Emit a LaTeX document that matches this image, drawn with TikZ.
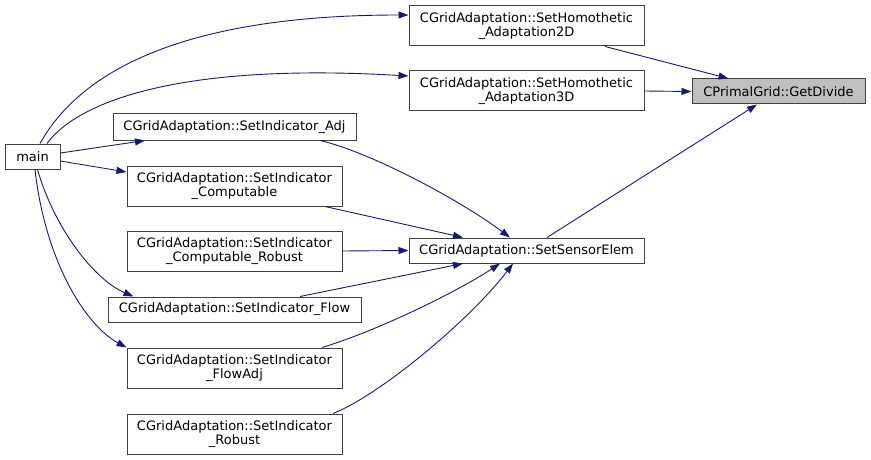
\documentclass[tikz,border=0pt]{standalone}
\usepackage{fontspec}
\setmainfont{DejaVu Sans}
\usetikzlibrary{positioning,arrows.meta}
\definecolor{edgeblue}{HTML}{191970}
\definecolor{boxgray}{HTML}{404040}
\definecolor{focusfill}{HTML}{BFBFBF}

\begin{document}
\begin{tikzpicture}[
  x=1pt, y=-1pt,
  fn/.style={
    rectangle, draw=boxgray, line width=1pt, fill=white,
    font=\fontsize{13}{14.7}\selectfont, inner sep=0pt, align=center
  },
  wide/.style={fn, minimum width=235pt, minimum height=40pt},
  ind/.style={fn, minimum width=215pt, minimum height=40pt},
  focus/.style={fn, fill=focusfill},
  arr/.style={-{Triangle[length=10pt,width=7pt]}, edgeblue, line width=0.9pt}
]
\useasboundingbox (0,0) rectangle (871,460);

% Called function
\node[focus, minimum width=173pt, minimum height=25pt] (div) at (778.5,91.5)
  {CPrimalGrid::GetDivide};

% Direct callers
\node[wide] (h2d) at (526.5,26) {CGridAdaptation::SetHomothetic\\\_Adaptation2D};
\node[wide] (h3d) at (526.5,91) {CGridAdaptation::SetHomothetic\\\_Adaptation3D};
\node[fn, minimum width=235pt, minimum height=25pt] (sens) at (526.5,250.5)
  {CGridAdaptation::SetSensorElem};

% Indicator functions
\node[fn, minimum width=243pt, minimum height=26pt] (adj) at (234.5,127)
  {CGridAdaptation::SetIndicator\_Adj};
\node[ind] (comp) at (234.5,186) {CGridAdaptation::SetIndicator\\\_Computable};
\node[ind] (compr) at (234.5,251) {CGridAdaptation::SetIndicator\\\_Computable\_Robust};
\node[fn, minimum width=253pt, minimum height=25pt] (flow) at (234.5,309.5)
  {CGridAdaptation::SetIndicator\_Flow};
\node[ind] (flowadj) at (234.5,368) {CGridAdaptation::SetIndicator\\\_FlowAdj};
\node[ind] (rob) at (234.5,434) {CGridAdaptation::SetIndicator\\\_Robust};

% Entry point
\node[fn, minimum width=55pt, minimum height=25pt] (main) at (32.5,156.5) {main};

% Calls into GetDivide
\draw[arr] ([xshift=78.5pt]h2d.south) -- ([xshift=-50pt]div.north);
\draw[arr] (h3d.east) -- (div.west);
\draw[arr] ([xshift=20.5pt]sens.north) -- ([xshift=-21.5pt]div.south);

% Calls from main
\draw[arr] ([xshift=7.5pt]main.north) .. controls (70,90) and (150,15) .. ([yshift=11pt]h2d.west);
\draw[arr] ([xshift=14.5pt]main.north) .. controls (75,105) and (170,62) .. ([yshift=15pt]h3d.west);
\draw[arr] ([yshift=3.5pt]main.east) -- ([xshift=-89.5pt]adj.south);
\draw[arr] ([yshift=-4.5pt]main.east) -- ([yshift=14pt]comp.west);
\draw[arr] ([xshift=5pt]main.south) .. controls (55,230) and (95,280) .. ([xshift=-101pt]flow.north);
\draw[arr] ([xshift=2.5pt]main.south) .. controls (45,260) and (85,325) .. (flowadj.north west);

% Calls into SetSensorElem
\draw[arr] ([xshift=85.5pt]adj.south) .. controls (370,152) and (460,200) .. ([xshift=-16.5pt]sens.north);
\draw[arr] ([xshift=90.5pt]comp.south) -- ([xshift=-63.5pt]sens.north);
\draw[arr] (compr.east) -- (sens.west);
\draw[arr] ([xshift=65.5pt]flow.north) -- ([xshift=-63.5pt]sens.south);
\draw[arr] ([xshift=87.5pt]flowadj.north) .. controls (380,330) and (460,290) .. ([xshift=-26.5pt]sens.south);
\draw[arr] ([xshift=98.5pt]rob.north) .. controls (380,395) and (470,320) .. ([xshift=-13.5pt]sens.south);

\end{tikzpicture}
\end{document}
